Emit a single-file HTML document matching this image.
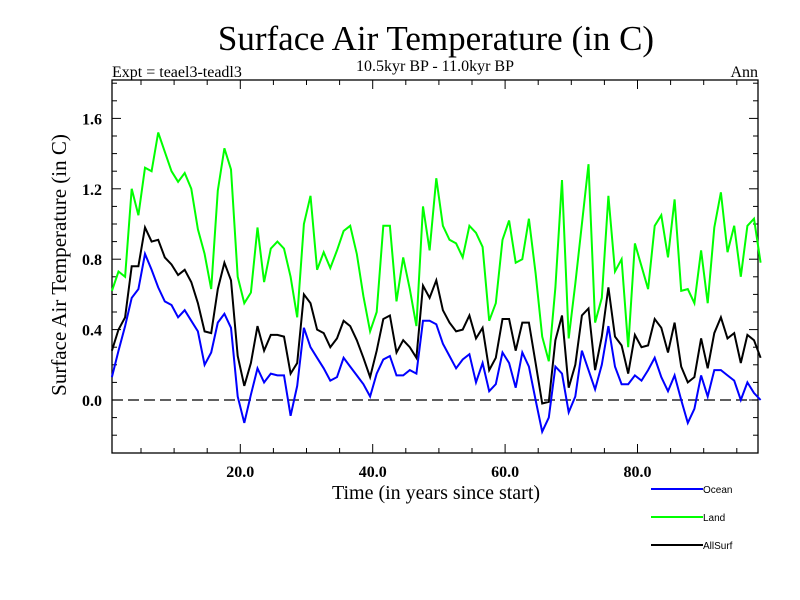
<!DOCTYPE html>
<html><head><meta charset="utf-8"><style>
html,body{margin:0;padding:0;background:#fff}
svg{display:block}
text{font-family:"Liberation Serif",serif;fill:#000}
</style></head><body>
<svg id="chart" width="800" height="600" viewBox="0 0 800 600" xmlns="http://www.w3.org/2000/svg">
<text x="436" y="50" font-size="35" text-anchor="middle">Surface Air Temperature (in C)</text>
<text x="112" y="77" font-size="16">Expt = teael3-teadl3</text>
<text x="435" y="71" font-size="16" text-anchor="middle">10.5kyr BP - 11.0kyr BP</text>
<text x="758" y="77" font-size="16" text-anchor="end">Ann</text>
<text transform="translate(66,265) rotate(-90)" font-size="21" text-anchor="middle">Surface Air Temperature (in C)</text>
<text x="436" y="499" font-size="20" text-anchor="middle">Time (in years since start)</text>
<g id="axes"></g>
<g id="series"></g>
<g id="legend"></g>
</svg>
<script>
const ocean=[0.13,0.28,0.42,0.58,0.63,0.83,0.74,0.64,0.56,0.54,0.47,0.51,0.45,0.39,0.20,0.27,0.44,0.49,0.41,0.02,-0.13,0.03,0.18,0.10,0.15,0.14,0.14,-0.09,0.08,0.41,0.30,0.24,0.18,0.11,0.13,0.24,0.19,0.14,0.09,0.02,0.15,0.23,0.25,0.14,0.14,0.17,0.15,0.45,0.45,0.43,0.32,0.25,0.18,0.23,0.26,0.10,0.21,0.05,0.09,0.27,0.21,0.07,0.27,0.19,0.00,-0.18,-0.10,0.19,0.15,-0.07,0.02,0.28,0.17,0.06,0.20,0.42,0.19,0.09,0.09,0.14,0.11,0.17,0.24,0.13,0.05,0.14,0.00,-0.13,-0.05,0.14,0.02,0.17,0.17,0.14,0.11,0.00,0.10,0.04,0.00];
const land=[0.62,0.73,0.70,1.20,1.05,1.32,1.30,1.52,1.41,1.30,1.24,1.29,1.20,0.97,0.83,0.63,1.19,1.43,1.31,0.70,0.55,0.61,0.98,0.67,0.86,0.90,0.86,0.70,0.47,1.00,1.16,0.74,0.84,0.75,0.85,0.96,0.99,0.83,0.59,0.39,0.50,0.99,0.99,0.56,0.81,0.63,0.42,1.10,0.85,1.26,0.99,0.91,0.89,0.81,0.99,0.95,0.87,0.45,0.55,0.91,1.02,0.78,0.80,1.03,0.72,0.36,0.22,0.64,1.25,0.35,0.66,1.00,1.34,0.44,0.58,1.16,0.73,0.80,0.30,0.89,0.76,0.63,0.99,1.05,0.81,1.14,0.62,0.63,0.55,0.85,0.55,0.98,1.18,0.84,0.99,0.70,0.99,1.03,0.78];
const allsurf=[0.28,0.40,0.47,0.76,0.76,0.98,0.90,0.91,0.81,0.77,0.71,0.74,0.67,0.55,0.39,0.38,0.63,0.78,0.68,0.25,0.08,0.21,0.42,0.28,0.37,0.37,0.36,0.15,0.21,0.60,0.55,0.40,0.38,0.30,0.35,0.45,0.42,0.34,0.24,0.13,0.28,0.46,0.48,0.27,0.34,0.30,0.24,0.65,0.58,0.68,0.51,0.44,0.39,0.40,0.48,0.35,0.41,0.17,0.24,0.46,0.46,0.28,0.44,0.44,0.21,-0.02,-0.01,0.34,0.48,0.07,0.20,0.48,0.52,0.17,0.36,0.64,0.36,0.31,0.15,0.37,0.30,0.31,0.46,0.41,0.27,0.44,0.19,0.10,0.13,0.35,0.18,0.38,0.47,0.35,0.38,0.21,0.37,0.34,0.24];
const yTicks=[0.0,0.4,0.8,1.2,1.6];
const yTickLabels=["0.0","0.4","0.8","1.2","1.6"];
const xTicks=[20,40,60,80];
const xTickLabels=["20.0","40.0","60.0","80.0"];
const seriesNames=["Ocean","Land","AllSurf"];

const NS="http://www.w3.org/2000/svg";
const L=112,R=758,T=80,B=453;
const sx=t=>107.9+6.62*t;
const sy=v=>400-176*v;
const tOf=i=>i+0.6;
function mk(tag,attrs,parent){const e=document.createElementNS(NS,tag);for(const k in attrs)e.setAttribute(k,attrs[k]);parent.appendChild(e);return e;}
const axes=document.getElementById('axes');
const frame=mk('rect',{x:L,y:T,width:R-L,height:B-T,fill:'none',stroke:'#000','stroke-width':1.3},axes);


const zl=mk('line',{x1:L,x2:R,y1:sy(0),y2:sy(0),stroke:'#000','stroke-width':1.2,'stroke-dasharray':'11,5'},axes);


for(let t=5;t<=95;t+=5){const x=sx(t);const len=(t%20===0)?9:5;
 const a=mk('line',{x1:x,x2:x,y1:B,y2:B-len,stroke:'#000','stroke-width':1},axes);
 
 
 const b=mk('line',{x1:x,x2:x,y1:T,y2:T+len,stroke:'#000','stroke-width':1},axes);
 
 }
xTicks.forEach((t,i)=>{const tx=mk('text',{x:sx(t),y:477,'font-size':16,'text-anchor':'middle','font-weight':'bold'},axes);tx.textContent=xTickLabels[i];
 
 });
for(let k=-2;k<=18;k++){const v=k/10;const y=sy(v);if(y<T-0.5||y>B+0.5)continue;const len=(k%4===0)?9:5;
 const a=mk('line',{x1:L,x2:L+len,y1:y,y2:y,stroke:'#000','stroke-width':1},axes);
 
 
 const b=mk('line',{x1:R,x2:R-len,y1:y,y2:y,stroke:'#000','stroke-width':1},axes);
 
 }
yTicks.forEach((v,i)=>{const tx=mk('text',{x:102,y:sy(v)+6,'font-size':16,'text-anchor':'end','font-weight':'bold'},axes);tx.textContent=yTickLabels[i];
 
 });
const sg=document.getElementById('series');
const colors=['#0000ff','#00ff00','#000000'];
const datasets=[ocean,land,allsurf];
const snames=['ocean-line','land-line','allsurf-line'];
datasets.forEach((d,j)=>{const pts=d.map((v,i)=>sx(tOf(i)).toFixed(1)+','+sy(v).toFixed(1)).join(' ');
 const p=mk('polyline',{points:pts,fill:'none',stroke:colors[j],'stroke-width':2,'stroke-linejoin':'miter'},sg);
 
 });
const lg=document.getElementById('legend');
const ly=[489,517,545];
seriesNames.forEach((n,j)=>{
 const ln=mk('line',{x1:651,x2:703,y1:ly[j],y2:ly[j],stroke:colors[j],'stroke-width':2},lg);
 
 
 const tx=mk('text',{x:703,y:ly[j]+4,'font-size':10,style:'font-family:"Liberation Sans",sans-serif'},lg);
 tx.textContent=n;
 
 });
</script>
</body></html>
